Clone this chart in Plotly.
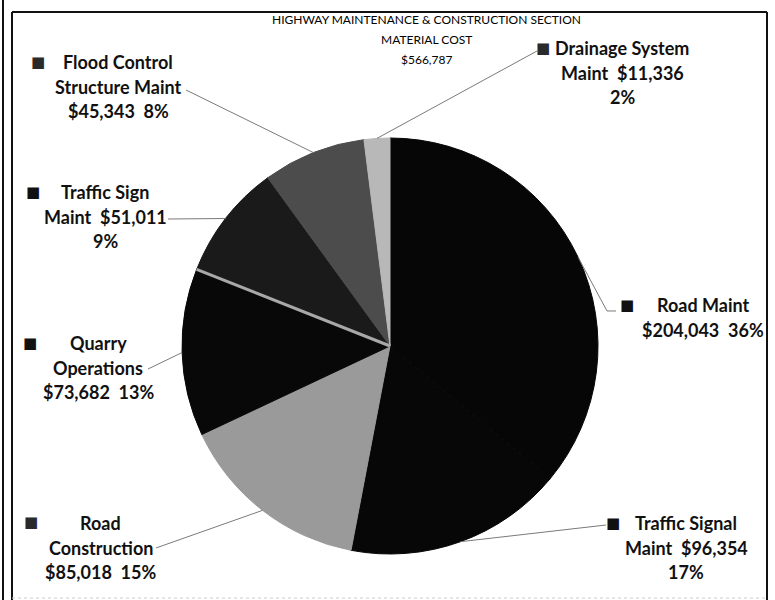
import numpy as np
import plotly.graph_objects as go

# ---------------- data ----------------
categories = ["Road Maint", "Traffic Signal Maint", "Road Construction",
              "Quarry Operations", "Traffic Sign Maint",
              "Flood Control Structure Maint", "Drainage System Maint"]
values = [204043, 96354, 85018, 73682, 51011, 45343, 11336]
title_lines = ["HIGHWAY MAINTENANCE & CONSTRUCTION SECTION", "MATERIAL COST"]
# how each data label is broken into lines ({v}=value, {p}=percent)
label_templates = [
    ["Road Maint", "{v}  {p}"],
    ["Traffic Signal", "Maint  {v}", "{p}"],
    ["Road", "Construction", "{v}  {p}"],
    ["Quarry", "Operations", "{v}  {p}"],
    ["Traffic Sign", "Maint  {v}", "{p}"],
    ["Flood Control", "Structure Maint", "{v}  {p}"],
    ["Drainage System", "Maint  {v}", "{p}"],
]

# ---------------- style / layout ----------------
W, H = 775, 600
slice_colors = ["#060606", "#070707", "#9a9a9a", "#080808", "#1a1a1a", "#4c4c4c", "#b8b8b8"]
key_colors = ["#111111", "#111111", "#2a2a2a", "#111111", "#111111", "#2a2a2a", "#2a2a2a"]
FONT = "Lato"
PIE_CX, PIE_CY, PIE_R = 390, 346, 208   # pixels

# label block positions: (text centre x, first line y, key x, key y, leader start points)
label_pos = [
    (703, 305, 627, 305, [(616, 311), (607, 311)]),
    (686, 523, 613, 523, [(606, 525)]),
    (101, 523, 31, 522, [(156, 548)]),
    (98, 343, 30, 343, [(148, 369)]),
    (105, 192, 33, 192, [(168, 219)]),
    (118, 62, 38, 62, [(186, 90)]),
    (622, 48, 543, 48, [(537, 51)]),
]
LINE_GAP = 24.6


def px(x):
    return x / W


def py(y):
    return 1 - y / H


vals = np.array(values, dtype=float)
total = vals.sum()
frac = vals / total
cum = np.concatenate([[0], np.cumsum(frac)])
mid = (cum[:-1] + cum[1:]) / 2

fig = go.Figure(go.Pie(
    labels=categories, values=values, sort=False, direction="clockwise",
    rotation=0, textinfo="none", textposition="none", showlegend=False,
    marker=dict(colors=slice_colors, line=dict(width=1, color=slice_colors)),
    domain=dict(x=[px(PIE_CX - PIE_R), px(PIE_CX + PIE_R)],
                y=[py(PIE_CY + PIE_R), py(PIE_CY - PIE_R)]),
    hoverinfo="label+value+percent",
))

annotations = []
shapes = []

# title
title_all = title_lines + [f"${int(total):,}"]
for i, t in enumerate(title_all):
    annotations.append(dict(text=t, x=px(426), y=py(20 + i * 20), xref="paper", yref="paper",
                            showarrow=False, xanchor="center", yanchor="middle",
                            font=dict(family=FONT, size=12, color="#000000")))

# data labels with legend keys and leader lines
for k in range(len(values)):
    pct = f"{round(frac[k] * 100):.0f}%"
    vstr = f"${values[k]:,}"
    cx_t, y0, kx, ky, pts = label_pos[k]
    for j, tmpl in enumerate(label_templates[k]):
        annotations.append(dict(text="<b>" + tmpl.format(v=vstr, p=pct) + "</b>",
                                x=px(cx_t), y=py(y0 + j * LINE_GAP), xref="paper", yref="paper",
                                showarrow=False, xanchor="center", yanchor="middle",
                                font=dict(family=FONT, size=18, color="#111111")))
    annotations.append(dict(text="■", x=px(kx), y=py(ky), xref="paper", yref="paper",
                            showarrow=False, xanchor="center", yanchor="middle",
                            font=dict(family="DejaVu Sans", size=15, color=key_colors[k])))
    ang = 2 * np.pi * mid[k]
    ex = PIE_CX + PIE_R * np.sin(ang)
    ey = PIE_CY - PIE_R * np.cos(ang)
    path_pts = pts + [(ex, ey)]
    path = "M " + " L ".join(f"{px(a):.5f},{py(b):.5f}" for a, b in path_pts)
    shapes.append(dict(type="path", path=path, xref="paper", yref="paper",
                       line=dict(color="#7a7a7a", width=1), layer="above"))

# light boundary between Quarry Operations and Traffic Sign Maint
b_ang = 2 * np.pi * cum[4]
shapes.append(dict(type="line", xref="paper", yref="paper",
                   x0=px(PIE_CX), y0=py(PIE_CY),
                   x1=px(PIE_CX + PIE_R * np.sin(b_ang)), y1=py(PIE_CY - PIE_R * np.cos(b_ang)),
                   line=dict(color="#a8a8a8", width=3), layer="above"))

# frame
frame = [
    (3, 0, 3, 600), (12, 12, 12, 600), (12, 12, 767, 12), (767, 12, 767, 600),
]
for x0, y0, x1, y1 in frame:
    shapes.append(dict(type="line", xref="paper", yref="paper",
                       x0=px(x0), y0=py(y0), x1=px(x1), y1=py(y1),
                       line=dict(color="#111111", width=2)))
shapes.append(dict(type="line", xref="paper", yref="paper",
                   x0=px(12), y0=py(598), x1=px(767), y1=py(598),
                   line=dict(color="#cccccc", width=1, dash="dot")))

fig.update_layout(
    width=W, height=H, margin=dict(l=0, r=0, t=0, b=0),
    paper_bgcolor="white", plot_bgcolor="white",
    annotations=annotations, shapes=shapes,
)

fig.write_html("out.html")
